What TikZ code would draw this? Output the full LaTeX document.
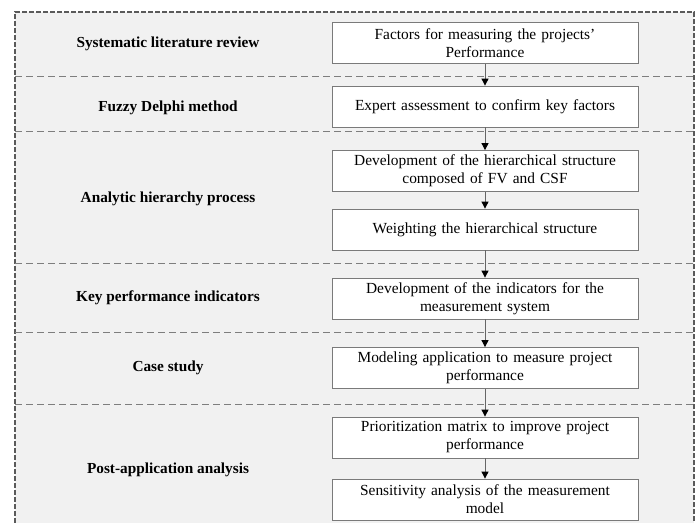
\documentclass[tikz,border=0pt]{standalone}
\usepackage{fontspec}
\setmainfont{Liberation Serif}
\usetikzlibrary{arrows.meta}
\definecolor{bgc}{HTML}{F1F1F1}
\definecolor{boxc}{HTML}{7A7A7A}
\definecolor{sepc}{HTML}{7E7E7E}
\definecolor{outc}{HTML}{5A5A5A}
\tikzset{
  stepbox/.style={draw=boxc, line width=0.8pt, fill=white, minimum width=306pt, minimum height=41pt, text width=302pt, align=center, inner sep=0pt, font=\fontsize{15.4}{18}\selectfont},
  phase/.style={font=\bfseries\fontsize{15.3}{18}\selectfont, align=center},
  sep/.style={draw=sepc, line width=0.8pt, dash pattern=on 7pt off 4pt},
  arr/.style={draw=gray!80!black, line width=0.9pt, -{Triangle[length=7pt,width=7pt,color=black]}}
}
\begin{document}
\begin{tikzpicture}[x=1pt,y=-1pt]
\useasboundingbox (0,0) rectangle (700,522);
\fill[bgc] (15,12) rectangle (694,530);
\draw[outc, line width=1.1pt, dash pattern=on 5pt off 2pt] (15,530) -- (15,12) -- (694,12) -- (694,530);
% separators
\draw[sep] (15,76) -- (694,76);
\draw[sep] (15,131) -- (694,131);
\draw[sep] (15,263) -- (694,263);
\draw[sep] (15,332) -- (694,332);
\draw[sep] (15,404) -- (694,404);
% boxes
\node[stepbox] (b1) at (485,43) {Factors for measuring the projects'\\Performance};
\node[stepbox] (b2) at (485,106.5) {Expert assessment to confirm key factors};
\node[stepbox] (b3) at (485,171) {Development of the hierarchical structure\\composed of FV and CSF};
\node[stepbox] (b4) at (485,229.5) {Weighting the hierarchical structure};
\node[stepbox] (b5) at (485,298.5) {Development of the indicators for the\\measurement system};
\node[stepbox] (b6) at (485,368) {Modeling application to measure project\\performance};
\node[stepbox] (b7) at (485,437.5) {Prioritization matrix to improve project\\performance};
\node[stepbox] (b8) at (485,499.5) {Sensitivity analysis of the measurement\\model};
% phase labels
\node[phase] (p1) at (168,44) {Systematic literature review};
\node[phase] (p2) at (168,108) {Fuzzy Delphi method};
\node[phase] (p3) at (168,199) {Analytic hierarchy process};
\node[phase] (p4) at (168,298) {Key performance indicators};
\node[phase] (p5) at (168,368) {Case study};
\node[phase] (p6) at (168,470) {Post-application analysis};
% arrows
\draw[arr] (b1) -- (b2);
\draw[arr] (b2) -- (b3);
\draw[arr] (b3) -- (b4);
\draw[arr] (b4) -- (b5);
\draw[arr] (b5) -- (b6);
\draw[arr] (b6) -- (b7);
\draw[arr] (b7) -- (b8);
\end{tikzpicture}
\end{document}
